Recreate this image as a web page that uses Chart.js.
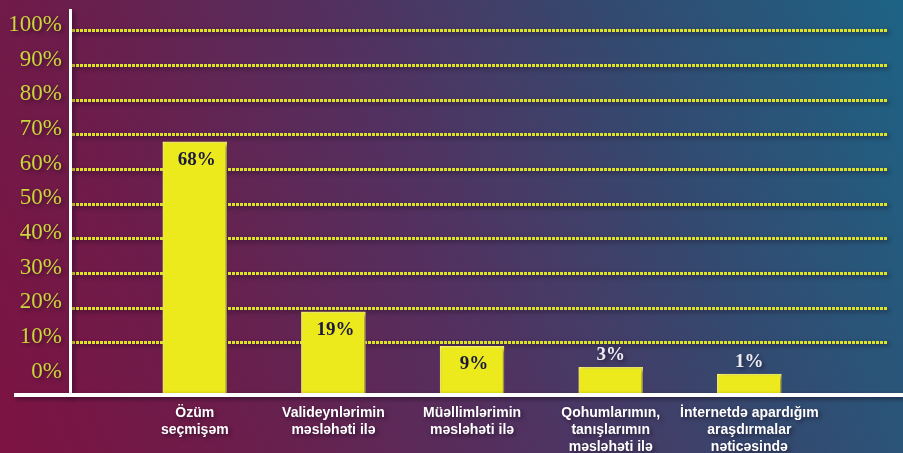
<!DOCTYPE html>
<html lang="az">
<head>
  <meta charset="UTF-8" />
  <title>Peşə seçimi</title>
  <style>
    html, body {
      margin: 0;
      padding: 0;
      overflow: hidden;
    }
    body {
      width: 903px;
      height: 453px;
      background: linear-gradient(68deg, #7d1342 0%, #6c1d4b 22%, #523160 48%, #34496f 72%, #1d6385 100%);
    }
    .wrap {
      position: relative;
      width: 903px;
      height: 453px;
    }
  </style>
</head>
<body>
  <div class="wrap"><canvas id="chart"></canvas></div>

  <script src="https://cdn.jsdelivr.net/npm/chart.js"></script>
  <script>
const categories = [
  ['Özüm', 'seçmişəm'],
  ['Valideynlərimin', 'məsləhəti ilə'],
  ['Müəllimlərimin', 'məsləhəti ilə'],
  ['Qohumlarımın,', 'tanışlarımın', 'məsləhəti ilə'],
  ['İnternetdə apardığım', 'araşdırmalar', 'nəticəsində']
];
const shares = [68, 19, 9, 3, 1];
const yTicks = [0, 10, 20, 30, 40, 50, 60, 70, 80, 90, 100];

// everything in the picture casts a soft dark shadow
const shadowPlugin = {
  id: 'shadow',
  beforeDraw(chart) {
    const ctx = chart.ctx;
    ctx.shadowColor = 'rgba(20, 5, 25, 0.55)';
    ctx.shadowOffsetX = 2;
    ctx.shadowOffsetY = 2;
    ctx.shadowBlur = 4;
  },
  afterDraw(chart) {
    const ctx = chart.ctx;
    ctx.shadowColor = 'rgba(0,0,0,0)';
    ctx.shadowBlur = 0;
    ctx.shadowOffsetX = 0;
    ctx.shadowOffsetY = 0;
  }
};

// white base line that runs past the y axis
const baseLine = {
  id: 'baseLine',
  afterDatasetsDraw(chart) {
    const ctx = chart.ctx;
    const y = chart.scales.y.getPixelForValue(chart.scales.y.min);
    ctx.save();
    ctx.strokeStyle = '#ffffff';
    ctx.lineWidth = 4;
    ctx.beginPath();
    ctx.moveTo(14, y);
    ctx.lineTo(chart.width, y);
    ctx.stroke();
    ctx.restore();
  }
};

const valueLabels = {
  id: 'valueLabels',
  afterDatasetsDraw(chart) {
    const ctx = chart.ctx;
    const meta = chart.getDatasetMeta(0);
    ctx.save();
    ctx.textAlign = 'center';
    ctx.textBaseline = 'middle';
    ctx.font = 'bold 19px "Liberation Serif", serif';
    meta.data.forEach((bar, i) => {
      const v = shares[i];
      if (v >= 5) {
        ctx.shadowColor = 'rgba(0,0,0,0)';
        ctx.fillStyle = '#1b1a3e';
        ctx.fillText(v + '%', bar.x + 2, bar.y + 18);
      } else {
        ctx.shadowColor = 'rgba(20, 5, 25, 0.55)';
        ctx.fillStyle = '#ecebf2';
        ctx.fillText(v + '%', bar.x, bar.y - 12);
      }
    });
    ctx.restore();
  }
};

new Chart(document.getElementById('chart'), {
  type: 'bar',
  data: {
    datasets: [{
      data: shares.map((v, i) => ({ x: i, y: v })),
      backgroundColor: '#ece91c',
      borderColor: '#f6f26a',
      borderWidth: 1.5,
      barThickness: 64,
      base: -5
    }]
  },
  options: {
    responsive: true,
    maintainAspectRatio: false,
    animation: false,
    layout: { padding: { top: 10, right: 15, left: 0, bottom: 0 } },
    plugins: {
      legend: { display: false },
      tooltip: { enabled: false }
    },
    scales: {
      x: {
        type: 'linear',
        offset: false,
        min: -0.9,
        max: 5.0,
        grid: { display: false, drawTicks: false },
        border: { display: false },
        afterBuildTicks: axis => { axis.ticks = categories.map((_, i) => ({ value: i })); },
        afterFit: axis => { axis.height = 58; axis.paddingLeft = 0; axis.paddingRight = 0; },
        ticks: {
          autoSkip: false,
          maxRotation: 0,
          padding: 10,
          color: '#ffffff',
          font: { family: '"Liberation Sans", Arial, sans-serif', size: 14, weight: 'bold', lineHeight: 1.2 },
          callback: v => categories[v]
        }
      },
      y: {
        min: -5,
        max: 106,
        afterBuildTicks: axis => { axis.ticks = yTicks.map(v => ({ value: v })); },
        afterFit: axis => { axis.width = 70; axis.paddingTop = 0; axis.paddingBottom = 0; },
        grid: {
          color: c => (c.tick && c.tick.value === 0) ? 'rgba(0,0,0,0)' : '#dde326',
          lineWidth: 3,
          drawTicks: false
        },
        border: { display: true, color: '#ffffff', width: 3, dash: [3, 1] },
        ticks: {
          padding: 8,
          labelOffset: -6,
          color: '#cad63a',
          font: { family: '"Liberation Serif", serif', size: 23 },
          callback: v => v + '%'
        }
      }
    }
  },
  plugins: [shadowPlugin, baseLine, valueLabels]
});
  </script>
</body>
</html>
